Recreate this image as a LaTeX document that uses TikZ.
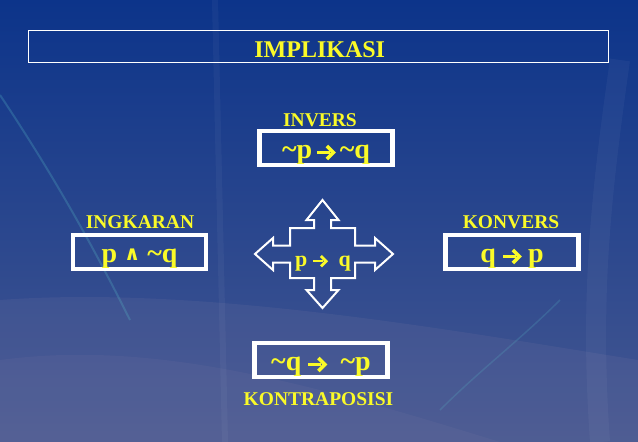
\documentclass[tikz,border=0pt]{standalone}
\usepackage{fontspec}
\setmainfont{Liberation Serif}
\newfontfamily\symfont{DejaVu Sans}
\definecolor{txtyel}{RGB}{250,250,40}
\definecolor{bgtop}{RGB}{12,52,138}
\definecolor{bgmid}{RGB}{20,76,162}
\definecolor{bgbot}{RGB}{70,88,145}
\definecolor{glow}{RGB}{90,190,200}
\definecolor{haze}{RGB}{130,125,165}
\newcommand{\arr}[1][1]{\tikz[baseline=0pt,x=#1pt,y=#1pt]{%
  \fill[txtyel] (0,4.4) rectangle (13,7.6);
  \draw[txtyel,line width=#1*3.6pt,line join=miter,miter limit=10] (10,12.5) -- (16.5,6) -- (10,-0.5);}}
\newcommand{\andop}{{\symfont\bfseries\fontsize{20}{20}\selectfont\raisebox{2.5pt}{∧}}}
\begin{document}
\begin{tikzpicture}[x=1pt,y=-1pt,
  titlebox/.style={draw=white,line width=1.2pt,minimum width=580pt,minimum height=32pt,inner sep=0pt},
  titletext/.style={text=txtyel,font=\bfseries\fontsize{24}{24}\selectfont,anchor=base},
  lab/.style={text=txtyel,font=\bfseries\fontsize{19.5}{20}\selectfont,anchor=base},
  formbox/.style={draw=white,line width=4.5pt,minimum width=133pt,minimum height=34pt,inner sep=0pt,
    text=txtyel,font=\bfseries\fontsize{28}{28}\selectfont,text height=21pt,text depth=0pt},
  crossline/.style={draw=white,line width=2pt,line join=miter},
  centertext/.style={text=txtyel,font=\bfseries\fontsize{22}{22}\selectfont,anchor=base}]
\useasboundingbox (0,0) rectangle (638,442);
% background
\shade[top color=bgtop,middle color=bgmid,bottom color=bgbot] (0,0) rectangle (638,442);
\fill[haze,opacity=0.15] (0,300) .. controls (200,285) and (450,330) .. (638,360) -- (638,442) -- (0,442) -- cycle;
\fill[haze,opacity=0.12] (0,360) .. controls (150,340) and (300,380) .. (500,442) -- (0,442) -- cycle;
\draw[glow,opacity=0.25,line width=2pt] (0,95) .. controls (50,170) and (90,240) .. (130,320);
\draw[white,opacity=0.04,line width=6pt] (215,0) -- (225,442);
\draw[glow,opacity=0.2,line width=1.5pt] (560,300) .. controls (520,340) and (480,370) .. (440,410);
\draw[white,opacity=0.04,line width=20pt] (620,60) .. controls (600,200) and (590,300) .. (600,442);
% title
\node[titlebox] (title) at (318.7,46.8) {};
\node[titletext] (titletxt) at (319.7,57.3) {IMPLIKASI};
% labels
\node[lab] (linv) at (320,126) {INVERS};
\node[lab] (ling) at (140,228) {INGKARAN};
\node[lab] (lkon) at (511,228) {KONVERS};
\node[lab] (lktr) at (318.5,405) {KONTRAPOSISI};
% formula boxes
\node[formbox] (inv) at (326,148) {\char`\~p\,\arr\,\char`\~q};
\node[formbox] (ing) at (139.5,252) {p \andop\ \char`\~q};
\node[formbox] (kon) at (512,252) {q \arr\ p};
\node[formbox] (ktr) at (321,360) {\char`\~q \arr\ \ \char`\~p};
% central cross
\draw[crossline] (322.5,200) -- (338.5,220) -- (331,220) -- (331,228) -- (355,228) -- (355,245.5)
  -- (375,245.5) -- (375,238) -- (393,254) -- (375,270) -- (375,262.5) -- (355,262.5)
  -- (355,278) -- (331,278) -- (331,290) -- (338.5,290) -- (322.5,308) -- (306.5,290)
  -- (314,290) -- (314,278) -- (290,278) -- (290,262.5) -- (273,262.5) -- (273,270)
  -- (255,254) -- (273,238) -- (273,245.5) -- (290,245.5) -- (290,228) -- (314,228)
  -- (314,220) -- (306.5,220) -- cycle;
\node[centertext] (imp) at (323,266) {p \arr[0.8]\ \ q};
\end{tikzpicture}
\end{document}
